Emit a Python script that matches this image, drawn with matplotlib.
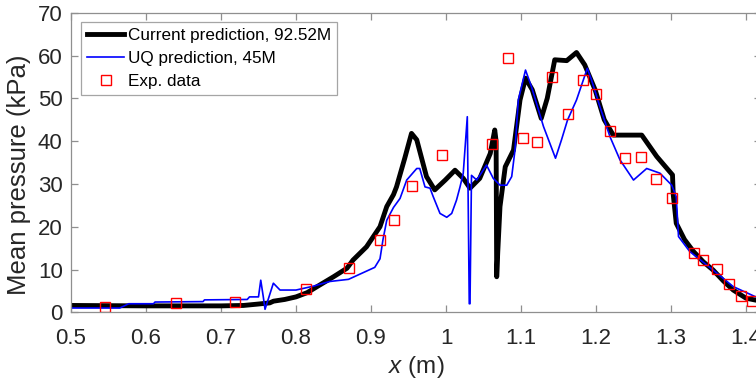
import matplotlib
matplotlib.use("Agg")
import matplotlib.pyplot as plt

plt.rcParams['font.family'] = ['Liberation Sans', 'DejaVu Sans']
plt.rcParams['mathtext.fontset'] = 'custom'
plt.rcParams['mathtext.it'] = 'Liberation Sans:italic'
plt.rcParams['mathtext.rm'] = 'Liberation Sans'

# Current prediction (92.52M cells)
cur_x = [0.50, 0.60, 0.70, 0.73, 0.748, 0.765, 0.77, 0.785, 0.80, 0.815, 0.83,
         0.85, 0.868, 0.876, 0.894, 0.912, 0.921, 0.93, 0.934, 0.945, 0.954,
         0.961, 0.974, 0.985, 0.999, 1.012, 1.023, 1.032, 1.045, 1.059, 1.065,
         1.0668, 1.0676, 1.069, 1.072, 1.079, 1.09, 1.0987, 1.106, 1.115,
         1.127, 1.135, 1.145, 1.161, 1.174, 1.185, 1.199, 1.211, 1.223, 1.261,
         1.281, 1.302, 1.303, 1.307, 1.318, 1.33, 1.343, 1.356, 1.37, 1.383,
         1.4, 1.42]
cur_y = [1.6, 1.5, 1.5, 1.6, 1.9, 2.2, 2.6, 3.0, 3.6, 4.6, 6.2,
         8.3, 10.3, 12.2, 15.3, 20.0, 24.7, 27.5, 29.3, 36.0, 41.8,
         40.3, 31.7, 28.6, 30.9, 33.2, 31.3, 29.0, 31.3, 37.1, 42.6,
         40.0, 8.3, 14.0, 24.7, 34.0, 37.9, 49.6, 54.7, 52.0,
         45.3, 50.0, 59.0, 58.8, 60.7, 57.8, 51.9, 45.0, 41.4, 41.4,
         36.4, 32.1, 27.5, 20.8, 17.0, 14.2, 11.8, 9.9, 7.3, 5.2,
         3.3, 2.6]

# UQ prediction (45M cells)
uq_x = [0.50, 0.565, 0.577, 0.61, 0.612, 0.676, 0.678, 0.735, 0.738, 0.75,
        0.753, 0.7564, 0.7587, 0.7698, 0.7787, 0.80, 0.823, 0.845, 0.87, 0.89,
        0.905, 0.912, 0.916, 0.921, 0.93, 0.9387, 0.9476, 0.961, 0.965, 0.972,
        0.9787, 0.983, 0.992, 1.001, 1.0076, 1.014, 1.0187, 1.023, 1.0284,
        1.031, 1.032, 1.034, 1.041, 1.054, 1.063, 1.072, 1.081, 1.0876, 1.092,
        1.0964, 1.106, 1.114, 1.13, 1.146, 1.154, 1.162, 1.174, 1.1884, 1.194,
        1.2053, 1.2187, 1.232, 1.25, 1.2676, 1.2853, 1.301, 1.307, 1.31, 1.325,
        1.356, 1.383, 1.413, 1.42]
uq_y = [1.0, 1.0, 2.0, 2.0, 2.4, 2.5, 2.9, 3.0, 3.6, 3.6,
        7.5, 3.6, 0.7, 6.8, 5.2, 5.2, 6.1, 7.2, 7.7, 9.3,
        10.5, 12.5, 17.0, 21.5, 24.5, 26.6, 30.9, 33.6, 33.6, 29.3,
        29.0, 27.0, 23.1, 22.2, 23.1, 26.2, 29.3, 32.5, 45.7,
        2.0, 2.0, 32.0, 30.9, 34.4, 31.3, 29.7, 29.7, 31.7, 37.9,
        49.6, 56.6, 52.7, 43.4, 36.0, 40.3, 44.9, 49.6, 57.0, 54.3,
        48.0, 41.0, 35.6, 30.9, 33.6, 32.5, 29.7, 27.0, 17.7, 14.2,
        9.9, 6.0, 3.6, 3.4]

# Experimental data
exp_x = [0.545, 0.640, 0.718, 0.813, 0.870, 0.912, 0.930, 0.955, 0.994,
         1.061, 1.082, 1.102, 1.121, 1.141, 1.163, 1.182, 1.200, 1.218,
         1.239, 1.260, 1.280, 1.301, 1.331, 1.343, 1.361, 1.377, 1.393, 1.408]
exp_y = [1.2, 2.1, 2.5, 5.4, 10.4, 17.0, 21.5, 29.5, 36.8,
         39.3, 59.3, 40.8, 39.7, 55.0, 46.3, 54.3, 51.0, 42.4,
         36.0, 36.4, 31.1, 26.6, 13.8, 12.2, 10.1, 6.6, 3.8, 2.6]

fig = plt.figure(figsize=(7.56, 3.79), dpi=100)
ax = fig.add_axes([71 / 756, 1 - 312.3 / 379, 690 / 756, 299.6 / 379])

ax.plot(cur_x, cur_y, color='black', lw=3.5, label='Current prediction, 92.52M',
        solid_joinstyle='round')
ax.plot(uq_x, uq_y, color='blue', lw=1.2, label='UQ prediction, 45M')
ax.plot(exp_x, exp_y, ls='none', marker='s', ms=6.5, mfc='none', mec='red',
        mew=1.0, label='Exp. data')

ax.set_xlim(0.5, 1.42)
ax.set_ylim(0, 70)
ax.set_xticks([0.5, 0.6, 0.7, 0.8, 0.9, 1.0, 1.1, 1.2, 1.3, 1.4])
ax.set_xticklabels(['0.5', '0.6', '0.7', '0.8', '0.9', '1', '1.1', '1.2', '1.3', '1.4'])
ax.set_yticks(range(0, 80, 10))

gray = '#262626'
for s in ax.spines.values():
    s.set_color('#8f8f8f')
    s.set_linewidth(0.9)
ax.tick_params(direction='in', length=5, width=0.9, color='#8f8f8f',
               top=True, right=True, labelsize=16, labelcolor=gray)
ax.tick_params(axis='x', pad=11)
ax.tick_params(axis='y', pad=6)

ax.set_xlabel(r'$\mathit{x}$ (m)', fontsize=17.5, color=gray, labelpad=4)
ax.set_ylabel('Mean pressure (kPa)', fontsize=18.5, color=gray)
ax.yaxis.set_label_coords(-0.058, 0.458)

leg = ax.legend(loc='upper left', bbox_to_anchor=(0.0145, 0.969), fontsize=12.3,
                frameon=True, fancybox=False, borderpad=0.35, labelspacing=0.47,
                handlelength=2.17, handletextpad=0.25, borderaxespad=0)
leg.get_frame().set_edgecolor('#8f8f8f')
leg.get_frame().set_linewidth(0.9)

fig.savefig('out.png', dpi=100)
